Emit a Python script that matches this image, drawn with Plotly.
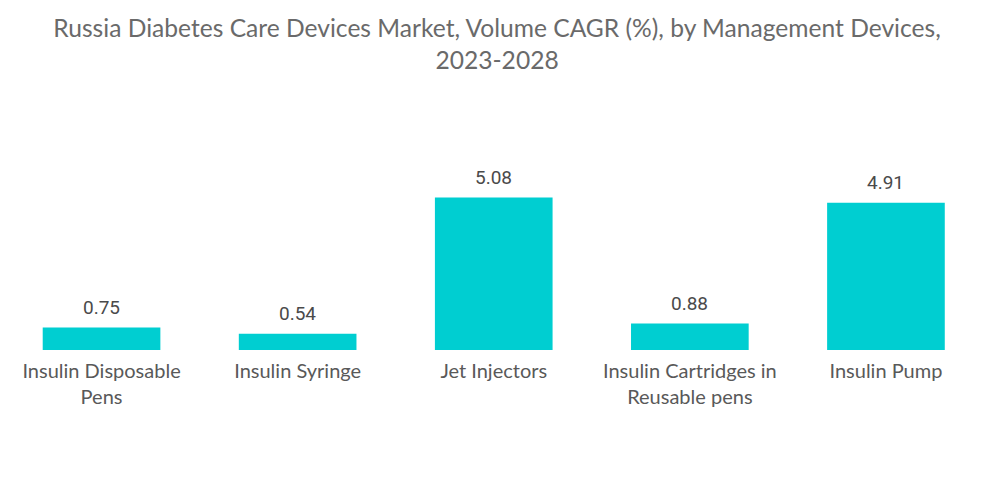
import plotly.graph_objects as go

categories = ["Insulin Disposable<br>Pens", "Insulin Syringe", "Jet Injectors",
              "Insulin Cartridges in<br>Reusable pens", "Insulin Pump"]
values = [0.75, 0.54, 5.08, 0.88, 4.91]
value_labels = ["0.75", "0.54", "5.08", "0.88", "4.91"]

fig = go.Figure()
fig.add_trace(go.Bar(x=categories, y=values, marker=dict(color="#00CED1", line=dict(width=0)),
                     hoverinfo="skip"))

for c, v, t in zip(categories, values, value_labels):
    fig.add_annotation(x=c, y=v, text=t, showarrow=False, yanchor="bottom", yshift=7,
                       font=dict(family="Roboto", size=19, color="#4a4a4a"))

fig.update_layout(
    width=992, height=496,
    paper_bgcolor="white", plot_bgcolor="white",
    margin=dict(l=0, r=16, t=102, b=154),
    bargap=0.4,
    showlegend=False,
    title=dict(text="Russia Diabetes Care Devices Market, Volume CAGR (%), by Management Devices,<br>2023-2028",
               x=0.493, xanchor="center", y=0.941, yanchor="middle",
               font=dict(family="Lato", size=24.6, color="#6a6a6a")),
    xaxis=dict(showline=False, showgrid=False, ticks="", automargin=False,
               range=[-0.477, 4.5], ticklabelstandoff=7,
               tickfont=dict(family="Lato", size=20, color="#595959")),
    yaxis=dict(visible=False, range=[0, 8], showgrid=False, zeroline=False, automargin=False),
)

fig.write_html("out.html")
